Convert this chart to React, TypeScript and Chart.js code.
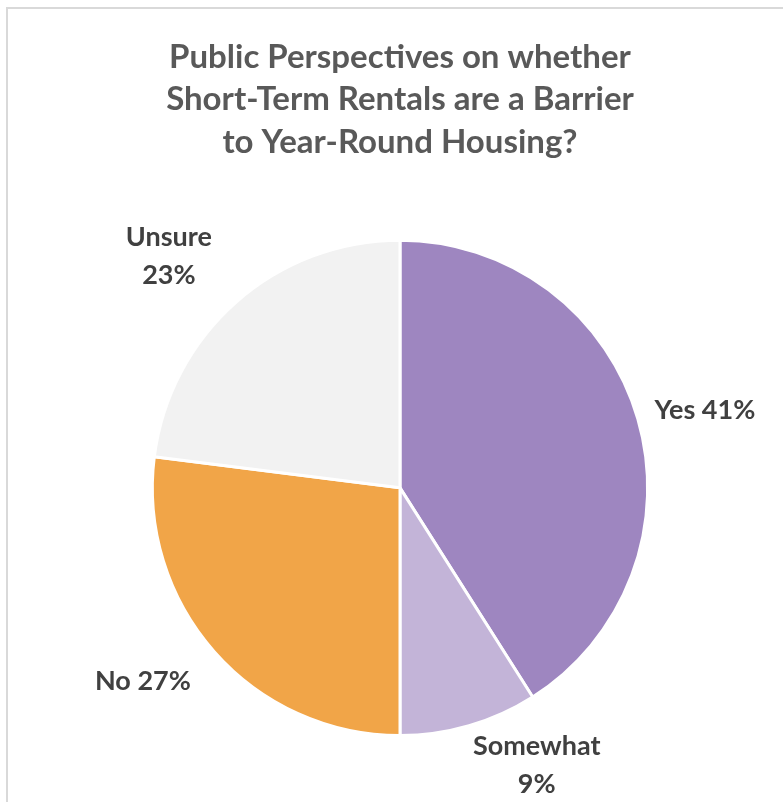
import React, { useEffect, useRef } from "react";
import { Chart, registerables } from "chart.js";

Chart.register(...registerables);

const categories = ["Yes", "Somewhat", "No", "Unsure"];
const percentages = [41, 9, 27, 23];
const sliceColors = ["#9e86c0", "#c3b4d8", "#f1a548", "#f2f2f2"];
const titleLines = [
  "Public Perspectives on whether",
  "Short-Term Rentals are a Barrier",
  "to Year-Round Housing?",
];
const labelLines = [["Yes 41%"], ["Somewhat", "9%"], ["No 27%"], ["Unsure", "23%"]];

// label placement tweaks (angle nudge in degrees, radial factor)
const labelPlacement = [
  { nudge: 2, factor: 1.27 },
  { nudge: -10, factor: 1.25 },
  { nudge: 4.4, factor: 1.3 },
  { nudge: -3.6, factor: 1.32 },
];

const FONT = "Lato, 'Open Sans', sans-serif";

const outsideLabels = {
  id: "outsideLabels",
  afterDatasetsDraw(chart: any) {
    const ctx = chart.ctx;
    const meta = chart.getDatasetMeta(0);
    ctx.save();
    ctx.fillStyle = "#404040";
    ctx.font = `bold 27px ${FONT}`;
    ctx.textAlign = "center";
    ctx.textBaseline = "middle";
    meta.data.forEach((arc: any, i: number) => {
      const p = labelPlacement[i];
      const mid = (arc.startAngle + arc.endAngle) / 2 + (p.nudge * Math.PI) / 180;
      const r = arc.outerRadius * p.factor;
      const x = arc.x + Math.cos(mid) * r;
      const y = arc.y + Math.sin(mid) * r;
      const lines = labelLines[i];
      const lh = 38;
      lines.forEach((t, j) => {
        ctx.fillText(t, x, y + (j - (lines.length - 1) / 2) * lh);
      });
    });
    ctx.restore();
  },
};

export default function App() {
  const ref = useRef<HTMLCanvasElement>(null);
  useEffect(() => {
    if (!ref.current) return;
    const chart = new Chart(ref.current, {
      type: "pie",
      data: {
        labels: categories,
        datasets: [
          {
            data: percentages,
            backgroundColor: sliceColors,
            borderColor: "#ffffff",
            borderWidth: 3,
          },
        ],
      },
      options: {
        responsive: false,
        animation: false,
        layout: { padding: { left: 150, right: 133, top: 8, bottom: 65 } },
        plugins: {
          legend: { display: false },
          tooltip: { enabled: false },
          title: {
            display: true,
            text: titleLines,
            color: "#595959",
            font: { family: FONT, size: 33, weight: "bold", lineHeight: 1.3 },
            padding: { top: 27.5, bottom: 74.5 },
          },
        },
      },
      plugins: [outsideLabels],
    });
    return () => chart.destroy();
  }, []);

  return (
    <div style={{ position: "absolute", left: 0, top: 0, width: 783, height: 802, overflow: "hidden", background: "#fff" }}>
      <div
        style={{
          position: "absolute",
          left: 6,
          top: 7,
          width: 820,
          height: 840,
          border: "2px solid #d9d9d9",
          boxSizing: "border-box",
        }}
      />
      <canvas ref={ref} width={783} height={802} style={{ position: "absolute", left: 0, top: 0 }} />
    </div>
  );
}
